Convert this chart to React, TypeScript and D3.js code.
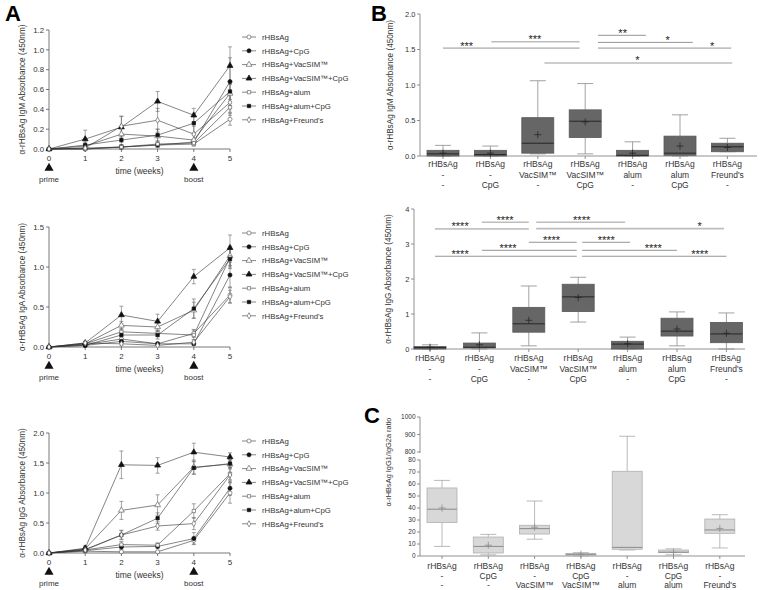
import React from 'react';
import * as d3 from 'd3';

const FONT = '"Liberation Sans", Arial, sans-serif';

// ---------- Panel A: time courses ----------
const weeks = [0, 1, 2, 3, 4, 5];
const groupNames = [
  'rHBsAg',
  'rHBsAg+CpG',
  'rHBsAg+VacSIM™',
  'rHBsAg+VacSIM™+CpG',
  'rHBsAg+alum',
  'rHBsAg+alum+CpG',
  "rHBsAg+Freund's",
];
const groupShape = ['circle', 'circle', 'triangle', 'triangle', 'square', 'square', 'diamond'];
const groupFilled = [false, true, false, true, false, true, false];

const igmMean = [
  [0, 0.01, 0.02, 0.04, 0.05, 0.3],
  [0, 0.0, 0.02, 0.04, 0.07, 0.68],
  [0, 0.03, 0.15, 0.13, 0.09, 0.56],
  [0, 0.1, 0.22, 0.48, 0.34, 0.84],
  [0, 0.0, 0.02, 0.05, 0.06, 0.42],
  [0, 0.04, 0.09, 0.14, 0.26, 0.58],
  [0, 0.01, 0.23, 0.29, 0.15, 0.47],
];
const igmErr = [
  [0, 0.01, 0.02, 0.02, 0.02, 0.06],
  [0, 0.01, 0.02, 0.02, 0.03, 0.24],
  [0, 0.02, 0.08, 0.07, 0.05, 0.1],
  [0, 0.09, 0.11, 0.1, 0.07, 0.19],
  [0, 0.01, 0.02, 0.03, 0.02, 0.08],
  [0, 0.03, 0.05, 0.06, 0.1, 0.1],
  [0, 0.01, 0.1, 0.12, 0.08, 0.1],
];

const igaMean = [
  [0, 0.03, 0.1, 0.04, 0.17, 0.65],
  [0, 0.02, 0.07, 0.04, 0.04, 0.9],
  [0, 0.04, 0.27, 0.25, 0.46, 1.14],
  [0, 0.05, 0.4, 0.32, 0.88, 1.24],
  [0, 0.04, 0.19, 0.17, 0.15, 1.12],
  [0, 0.02, 0.15, 0.15, 0.48, 1.1],
  [0, 0.05, 0.04, 0.02, 0.06, 0.63],
];
const igaErr = [
  [0, 0.01, 0.03, 0.02, 0.05, 0.1],
  [0, 0.01, 0.02, 0.01, 0.02, 0.16],
  [0, 0.02, 0.05, 0.05, 0.1, 0.12],
  [0, 0.02, 0.11, 0.09, 0.09, 0.16],
  [0, 0.02, 0.04, 0.04, 0.06, 0.12],
  [0, 0.01, 0.05, 0.05, 0.12, 0.12],
  [0, 0.02, 0.02, 0.01, 0.03, 0.08],
];

const iggMean = [
  [0, 0.03, 0.02, 0.02, 0.21, 1.0],
  [0, 0.04, 0.1, 0.11, 0.24, 1.08],
  [0, 0.07, 0.71, 0.8, 1.43, 1.48],
  [0, 0.08, 1.47, 1.46, 1.68, 1.6],
  [0, 0.05, 0.14, 0.13, 0.7, 1.32],
  [0, 0.06, 0.3, 0.58, 1.42, 1.49],
  [0, 0.05, 0.3, 0.45, 0.49, 1.3],
];
const iggErr = [
  [0, 0.02, 0.01, 0.01, 0.06, 0.17],
  [0, 0.02, 0.04, 0.04, 0.1, 0.12],
  [0, 0.04, 0.15, 0.17, 0.12, 0.08],
  [0, 0.04, 0.23, 0.13, 0.15, 0.07],
  [0, 0.03, 0.05, 0.04, 0.12, 0.1],
  [0, 0.03, 0.08, 0.09, 0.1, 0.06],
  [0, 0.03, 0.07, 0.07, 0.1, 0.12],
];

// ---------- Panel B/C: box plots ----------
const boxGroups = ['rHBsAg', 'rHBsAg', 'rHBsAg', 'rHBsAg', 'rHBsAg', 'rHBsAg', 'rHBsAg'];
const bAdjuvant = ['-', '-', 'VacSIM™', 'VacSIM™', 'alum', 'alum', "Freund's"];
const bCpg = ['-', 'CpG', '-', 'CpG', '-', 'CpG', '-'];
const cCpg = ['-', 'CpG', '-', 'CpG', '-', 'CpG', '-'];
const cAdjuvant = ['-', '-', 'VacSIM™', 'VacSIM™', 'alum', 'alum', "Freund's"];

// [min, q1, median, q3, max, mean]
const bIgmBoxes = [
  [0, 0, 0.03, 0.08, 0.15, 0.04],
  [0, 0, 0.02, 0.08, 0.14, 0.04],
  [0.03, 0.04, 0.18, 0.54, 1.06, 0.3],
  [0.03, 0.26, 0.49, 0.65, 1.02, 0.48],
  [0, 0, 0.01, 0.08, 0.2, 0.04],
  [0, 0.01, 0.04, 0.28, 0.58, 0.14],
  [0.06, 0.06, 0.13, 0.18, 0.25, 0.12],
];
const bIggBoxes = [
  [0, 0, 0.04, 0.07, 0.12, 0.05],
  [0, 0.03, 0.05, 0.17, 0.46, 0.12],
  [0.09, 0.48, 0.72, 1.19, 1.8, 0.82],
  [0.77, 1.07, 1.49, 1.85, 2.05, 1.47],
  [0, 0, 0.14, 0.22, 0.34, 0.15],
  [0.09, 0.37, 0.51, 0.88, 1.06, 0.57],
  [0, 0.18, 0.43, 0.76, 1.03, 0.45],
];
const cRatioBoxes = [
  [8, 28, 39, 56.7, 63, 40],
  [1, 2.5, 8, 15.8, 18, 9],
  [14, 18.3, 22.8, 25.6, 45.8, 24],
  [0, 0.5, 1.4, 2.2, 2.8, 1.5],
  [5, 5.6, 7.2, 70.6, 890, 160],
  [1, 2.8, 3.2, 5, 6, 3],
  [6.7, 18.9, 21.7, 30.8, 34.4, 23],
];

// significance bars: from / to / label position in group units, level in data units
const bIgmSigFrom = [0, 1.02, 3.27, 3.27, 3.27, 2.14];
const bIgmSigTo = [2.88, 2.88, 4.28, 5.27, 6.08, 6.1];
const bIgmSigLevel = [1.52, 1.61, 1.7, 1.6, 1.52, 1.31];
const bIgmSigText = ['***', '***', '**', '*', '*', '*'];
const bIgmSigAt = [0.5, 1.94, 3.79, 4.74, 5.68, 4.1];
const bIgmSigLight = [false, true, false, false, false, true];

const bIggSigFrom = [0.1, 1.05, 2.15, 2.15, 2.0, 3.08, 1.05, 3.08, 0.1, 3.08];
const bIggSigTo = [2.0, 2.0, 3.95, 5.95, 2.97, 4.05, 2.97, 5.0, 2.97, 6.0];
const bIggSigLevel = [3.43, 3.62, 3.62, 3.44, 3.05, 3.05, 2.82, 2.82, 2.65, 2.65];
const bIggSigText = ['****', '****', '****', '*', '****', '****', '****', '****', '****', '****'];
const bIggSigAt = [0.61, 1.52, 3.07, 5.46, 2.46, 3.57, 1.58, 4.52, 0.61, 5.46];
const bIggSigLight = [false, true, true, true, false, false, false, false, false, false];

const symbolType: Record<string, d3.SymbolType> = {
  circle: d3.symbolCircle,
  triangle: d3.symbolTriangle,
  square: d3.symbolSquare,
  diamond: d3.symbolDiamond,
};
const symbolSize: Record<string, number> = { circle: 13, triangle: 15, square: 11, diamond: 11 };

function marker(i: number, cx: number, cy: number, key: string) {
  const shape = groupShape[i];
  const d = d3.symbol().type(symbolType[shape]).size(symbolSize[shape])() ?? '';
  return (
    <path
      key={key}
      d={d}
      transform={`translate(${cx},${cy})`}
      fill={groupFilled[i] ? '#111' : '#fff'}
      stroke={groupFilled[i] ? '#111' : '#666'}
      strokeWidth={0.7}
    />
  );
}

interface TimeCourseProps {
  top: number;
  bottom: number;
  yMax: number;
  yStep: number;
  title: string;
  means: number[][];
  errs: number[][];
  legendTop: number;
}

function TimeCourse({ top, bottom, yMax, yStep, title, means, errs, legendTop }: TimeCourseProps) {
  const x = d3.scaleLinear().domain([0, 5]).range([49, 230]);
  const y = d3.scaleLinear().domain([0, yMax]).range([bottom, top]);
  const ticks = d3.range(0, yMax + 1e-9, yStep);
  const line = d3
    .line<number>()
    .x((_, k) => x(weeks[k]))
    .y((v) => y(v));

  return (
    <g>
      {/* y axis */}
      <line x1={x(0)} x2={x(0)} y1={y(0)} y2={y(yMax)} stroke="#555" strokeWidth={0.8} />
      {ticks.map((t) => (
        <g key={`yt-${t}`}>
          <line x1={x(0) - 3} x2={x(0)} y1={y(t)} y2={y(t)} stroke="#555" strokeWidth={0.8} />
          <text x={x(0) - 5} y={y(t) + 2.7} fontSize={7.8} fill="#333" textAnchor="end">
            {t.toFixed(1)}
          </text>
        </g>
      ))}
      {/* x axis */}
      <line x1={x(0)} x2={x(5)} y1={y(0)} y2={y(0)} stroke="#555" strokeWidth={0.8} />
      {weeks.map((w) => (
        <g key={`xt-${w}`}>
          <line x1={x(w)} x2={x(w)} y1={y(0)} y2={y(0) + 3} stroke="#555" strokeWidth={0.8} />
          <text x={x(w)} y={y(0) + 12} fontSize={8} fill="#333" textAnchor="middle">
            {w}
          </text>
        </g>
      ))}
      {[0, 4].map((w) => (
        <path
          key={`arrow-${w}`}
          d={d3.symbol().type(d3.symbolTriangle).size(36)() ?? ''}
          transform={`translate(${x(w)},${y(0) + 19})`}
          fill="#111"
        />
      ))}
      <text x={x(2.5)} y={y(0) + 25} fontSize={8.5} fill="#333" textAnchor="middle">
        time (weeks)
      </text>
      <text x={x(0)} y={y(0) + 33} fontSize={8} fill="#333" textAnchor="middle">
        prime
      </text>
      <text x={x(4)} y={y(0) + 33} fontSize={8} fill="#333" textAnchor="middle">
        boost
      </text>
      <text
        transform={`translate(25,${(y(0) + y(yMax)) / 2}) rotate(-90)`}
        fontSize={8.2}
        fill="#333"
        textAnchor="middle"
      >
        {title}
      </text>

      {/* series lines */}
      {means.map((m, i) => (
        <path key={`ln-${i}`} d={line(m) ?? ''} fill="none" stroke="#333" strokeWidth={0.6} />
      ))}
      {/* error bars */}
      {means.map((m, i) =>
        m.map((v, k) =>
          errs[i][k] > 0 ? (
            <g key={`eb-${i}-${k}`} stroke="#666" strokeWidth={0.6}>
              <line x1={x(weeks[k])} x2={x(weeks[k])} y1={y(v - errs[i][k])} y2={y(v + errs[i][k])} />
              <line x1={x(weeks[k]) - 2} x2={x(weeks[k]) + 2} y1={y(v + errs[i][k])} y2={y(v + errs[i][k])} />
              <line x1={x(weeks[k]) - 2} x2={x(weeks[k]) + 2} y1={y(v - errs[i][k])} y2={y(v - errs[i][k])} />
            </g>
          ) : null,
        ),
      )}
      {means.map((m, i) => m.map((v, k) => marker(i, x(weeks[k]), y(v), `mk-${i}-${k}`)))}

      {/* legend */}
      {groupNames.map((name, i) => {
        const ly = legendTop + i * 13.8;
        return (
          <g key={`lg-${i}`}>
            <line x1={242} x2={256} y1={ly} y2={ly} stroke="#333" strokeWidth={0.6} />
            {marker(i, 249, ly, `lgm-${i}`)}
            <text x={262} y={ly + 2.8} fontSize={7.8} fill="#333">
              {name}
            </text>
          </g>
        );
      })}
    </g>
  );
}

interface BoxPanelProps {
  y: (v: number) => number;
  axisTop: number;
  axisX: number;
  axisEnd: number;
  first: number;
  step: number;
  boxes: number[][];
  line2: string[];
  line3: string[];
  labelRows: [number, number, number];
  ticks: number[];
  tickSize: number;
  fmt: (v: number) => string;
  title: string;
  titleX: number;
  titleY?: number;
  titleSize: number;
  light: boolean;
  sig?: {
    from: number[];
    to: number[];
    level: number[];
    text: string[];
    at: number[];
    light: boolean[];
  };
  axisGap?: [number, number];
}

function BoxPanel(p: BoxPanelProps) {
  const gx = d3.scaleLinear().domain([0, 1]).range([p.first, p.first + p.step]);
  const base = p.y(0);
  const halfW = p.light ? 15 : 16;
  const fill = p.light ? '#d8d8d8' : '#666666';
  const edge = p.light ? '#b0b0b0' : '#595959';
  const whisk = p.light ? '#a8a8a8' : '#8a8a8a';
  const med = p.light ? '#8a8a8a' : '#262626';
  const titleY = p.titleY ?? (base + p.axisTop) / 2;

  return (
    <g>
      {/* y axis */}
      {p.axisGap ? (
        <>
          <line x1={p.axisX} x2={p.axisX} y1={base} y2={p.axisGap[0]} stroke="#777" strokeWidth={0.8} />
          <line x1={p.axisX} x2={p.axisX} y1={p.axisGap[1]} y2={p.axisTop} stroke="#777" strokeWidth={0.8} />
        </>
      ) : (
        <line x1={p.axisX} x2={p.axisX} y1={base} y2={p.axisTop} stroke="#777" strokeWidth={0.8} />
      )}
      {p.ticks.map((t) => (
        <g key={`byt-${t}`}>
          <line x1={p.axisX - 3} x2={p.axisX} y1={p.y(t)} y2={p.y(t)} stroke="#777" strokeWidth={0.8} />
          <text x={p.axisX - 4.5} y={p.y(t) + p.tickSize * 0.35} fontSize={p.tickSize} fill="#333" textAnchor="end">
            {p.fmt(t)}
          </text>
        </g>
      ))}
      <text
        transform={`translate(${p.titleX},${titleY}) rotate(-90)`}
        fontSize={p.titleSize}
        fill="#333"
        textAnchor="middle"
      >
        {p.title}
      </text>
      {/* x axis */}
      <line x1={p.axisX} x2={p.axisEnd} y1={base} y2={base} stroke="#777" strokeWidth={0.8} />
      {p.boxes.map((_, i) => (
        <g key={`bxl-${i}`}>
          <line x1={gx(i)} x2={gx(i)} y1={base} y2={base + 3} stroke="#777" strokeWidth={0.8} />
          <text x={gx(i)} y={base + p.labelRows[0]} fontSize={8.5} fill="#333" textAnchor="middle">
            {boxGroups[i]}
          </text>
          <text x={gx(i)} y={base + p.labelRows[1]} fontSize={8.5} fill="#333" textAnchor="middle">
            {p.line2[i]}
          </text>
          <text x={gx(i)} y={base + p.labelRows[2]} fontSize={8.5} fill="#333" textAnchor="middle">
            {p.line3[i]}
          </text>
        </g>
      ))}

      {/* boxes */}
      {p.boxes.map(([lo, q1, md, q3, hi, mean], i) => {
        const cx = gx(i);
        return (
          <g key={`box-${i}`}>
            <line x1={cx} x2={cx} y1={p.y(hi)} y2={p.y(q3)} stroke={whisk} strokeWidth={0.8} />
            <line x1={cx} x2={cx} y1={p.y(q1)} y2={p.y(lo)} stroke={whisk} strokeWidth={0.8} />
            <line x1={cx - 8} x2={cx + 8} y1={p.y(hi)} y2={p.y(hi)} stroke={whisk} strokeWidth={0.8} />
            <line x1={cx - 8} x2={cx + 8} y1={p.y(lo)} y2={p.y(lo)} stroke={whisk} strokeWidth={0.8} />
            <rect
              x={cx - halfW}
              y={p.y(q3)}
              width={halfW * 2}
              height={Math.max(p.y(q1) - p.y(q3), 1)}
              fill={fill}
              stroke={edge}
              strokeWidth={0.8}
            />
            <line x1={cx - halfW} x2={cx + halfW} y1={p.y(md)} y2={p.y(md)} stroke={med} strokeWidth={1} />
            {(mean <= 80 || mean >= 800 || !p.axisGap) && (
              <g stroke={med} strokeWidth={0.8}>
                <line x1={cx - 3.5} x2={cx + 3.5} y1={p.y(mean)} y2={p.y(mean)} />
                <line x1={cx} x2={cx} y1={p.y(mean) - 3.5} y2={p.y(mean) + 3.5} />
              </g>
            )}
          </g>
        );
      })}

      {/* significance */}
      {p.sig &&
        p.sig.from.map((f, k) => (
          <g key={`sig-${k}`}>
            <line
              x1={gx(f)}
              x2={gx(p.sig!.to[k])}
              y1={p.y(p.sig!.level[k])}
              y2={p.y(p.sig!.level[k])}
              stroke={p.sig!.light[k] ? '#bdbdbd' : '#7a7a7a'}
              strokeWidth={p.sig!.light[k] ? 1.6 : 0.8}
            />
            <text x={gx(p.sig!.at[k])} y={p.y(p.sig!.level[k]) + 1.5} fontSize={11} fill="#222" textAnchor="middle">
              {p.sig!.text[k]}
            </text>
          </g>
        ))}
    </g>
  );
}

export default function App() {
  const yBM = d3.scaleLinear().domain([0, 2]).range([156, 14]);
  const yBG = d3.scaleLinear().domain([0, 4]).range([349, 209]);
  const yC = d3.scaleLinear().domain([0, 80, 800, 1000]).range([556, 460, 452, 417]);

  return (
    <svg
      width={760}
      height={590}
      style={{ position: 'absolute', left: 0, top: 0, background: '#fff', fontFamily: FONT }}
    >
      <text x={5} y={21} fontSize={22} fontWeight="bold" fill="#000">
        A
      </text>
      <text x={371} y={21} fontSize={22} fontWeight="bold" fill="#000">
        B
      </text>
      <text x={364} y={423} fontSize={22} fontWeight="bold" fill="#000">
        C
      </text>

      <TimeCourse
        top={30}
        bottom={149}
        yMax={1.2}
        yStep={0.2}
        title="α-rHBsAg IgM Absorbance (450nm)"
        means={igmMean}
        errs={igmErr}
        legendTop={37}
      />
      <TimeCourse
        top={227}
        bottom={347}
        yMax={1.5}
        yStep={0.5}
        title="α-rHBsAg IgA Absorbance (450nm)"
        means={igaMean}
        errs={igaErr}
        legendTop={233}
      />
      <TimeCourse
        top={433}
        bottom={553}
        yMax={2.0}
        yStep={0.5}
        title="α-rHBsAg IgG Absorbance (450nm)"
        means={iggMean}
        errs={iggErr}
        legendTop={441}
      />

      <BoxPanel
        y={yBM}
        axisTop={14}
        axisX={420}
        axisEnd={757}
        first={443}
        step={47.4}
        boxes={bIgmBoxes}
        line2={bAdjuvant}
        line3={bCpg}
        labelRows={[11, 21.5, 32]}
        ticks={[0, 0.5, 1, 1.5, 2]}
        tickSize={7.5}
        fmt={(v) => v.toFixed(1)}
        title="α-rHBsAg IgM Absorbance (450nm)"
        titleX={393}
        titleSize={8.2}
        light={false}
        sig={{
          from: bIgmSigFrom,
          to: bIgmSigTo,
          level: bIgmSigLevel,
          text: bIgmSigText,
          at: bIgmSigAt,
          light: bIgmSigLight,
        }}
      />
      <BoxPanel
        y={yBG}
        axisTop={209}
        axisX={414}
        axisEnd={745}
        first={430}
        step={49.4}
        boxes={bIggBoxes}
        line2={bAdjuvant}
        line3={bCpg}
        labelRows={[12, 22.5, 33]}
        ticks={[0, 1, 2, 3, 4]}
        tickSize={7.5}
        fmt={(v) => String(v)}
        title="α-rHBsAg IgG Absorbance (450nm)"
        titleX={391}
        titleSize={8.2}
        light={false}
        sig={{
          from: bIggSigFrom,
          to: bIggSigTo,
          level: bIggSigLevel,
          text: bIggSigText,
          at: bIggSigAt,
          light: bIggSigLight,
        }}
      />
      <BoxPanel
        y={yC}
        axisTop={417}
        axisX={420}
        axisEnd={745}
        first={442}
        step={46.3}
        boxes={cRatioBoxes}
        line2={cCpg}
        line3={cAdjuvant}
        labelRows={[13, 22.5, 32]}
        ticks={[0, 10, 20, 30, 40, 50, 60, 70, 80, 800, 900, 1000]}
        tickSize={6.5}
        fmt={(v) => String(v)}
        title="α-rHBsAg IgG1/IgG2a ratio"
        titleX={391}
        titleY={462}
        titleSize={7.4}
        light={true}
        axisGap={[459.5, 453]}
      />
    </svg>
  );
}
